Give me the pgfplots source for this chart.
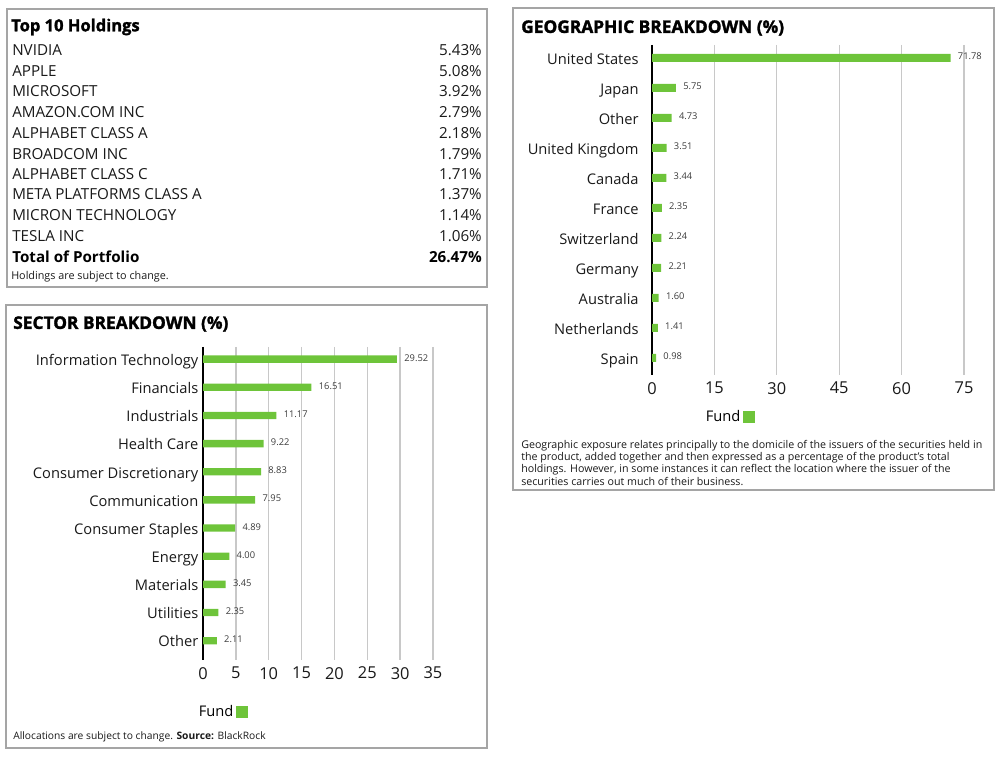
\documentclass[border=0pt]{standalone}
\usepackage{pgfplots}
\pgfplotsset{compat=1.18}
\usepackage{fontspec}
\setmainfont{Open Sans}
\newfontfamily\heavyfont{Open Sans}[UprightFeatures={FakeBold=1.6}, BoldFeatures={FakeBold=1.6}]
\definecolor{fund}{RGB}{110,196,58}
\definecolor{gridc}{RGB}{200,200,200}
\definecolor{boxc}{RGB}{165,165,165}
\definecolor{txt}{RGB}{25,25,25}
\newcommand{\rowfont}{\fontsize{11.4}{13}\selectfont}
\newcommand{\tickfont}{\fontsize{11}{13}\selectfont}
\newcommand{\titlefont}{\fontsize{13}{15}\selectfont\heavyfont\bfseries}
\newcommand{\notefont}{\fontsize{7.7}{9.2}\selectfont}
\pgfplotsset{fundbar/.style={
  xbar, scale only axis, anchor=south west, clip=false,
  axis lines*=left, x axis line style={draw=none},
  y axis line style={black,line width=2.2pt},
  major tick length=0pt, xmajorgrids, grid style={gridc,line width=1pt},
  ytick={0,...,10}, y dir=reverse,
  tick label style={font=\tickfont, text=txt},
  yticklabel style={text height=0.75em, text depth=0.25em, yshift=-2.2pt},
  xticklabel style={yshift=-1.8pt, font=\fontsize{12.3}{14}\selectfont},
  /pgf/number format/assume math mode=true,
  point meta=x,
  nodes near coords={\pgfmathprintnumber[fixed,fixed zerofill,precision=2]{\pgfplotspointmeta}},
  nodes near coords style={font=\fontsize{7}{8}\selectfont, text=txt!85, anchor=west, xshift=2pt, yshift=1pt},
  legend plot pos=right,
  legend image code/.code={\fill[fund] (0pt,-4.5pt) rectangle (9pt,4.5pt);},
  legend style={draw=none, fill=none, font=\tickfont, anchor=center},
}}
\begin{document}
\begin{tikzpicture}[x=0.75pt,y=0.75pt]
\path (0,0) rectangle (1000,760);
% boxes
\draw[boxc,line width=1.2pt] (7,751) rectangle (487,473);
\draw[boxc,line width=1.2pt] (6,455) rectangle (487,12);
\draw[boxc,line width=1.2pt] (513,752) rectangle (994,270);
% Top 10 holdings
\node[anchor=west,inner sep=0,text=black] at (11,733) {\fontsize{12.4}{14}\selectfont\heavyfont\bfseries Top 10 Holdings};
\foreach \n/\v/\y in {NVIDIA/5.43/710, APPLE/5.08/689, MICROSOFT/3.92/669, AMAZON.COM INC/2.79/648, ALPHABET CLASS A/2.18/627, BROADCOM INC/1.79/606, ALPHABET CLASS C/1.71/586, META PLATFORMS CLASS A/1.37/566, MICRON TECHNOLOGY/1.14/545, TESLA INC/1.06/524}{
  \node[anchor=west,inner sep=0,text=txt] at (12,\y) {\rowfont \n};
  \node[anchor=east,inner sep=0,text=txt] at (482,\y) {\rowfont \v\%};
}
\node[anchor=west,inner sep=0,text=black] at (12,503) {\rowfont\bfseries Total of Portfolio};
\node[anchor=east,inner sep=0,text=black] at (482,503) {\rowfont\bfseries 26.47\%};
\node[anchor=west,inner sep=0,text=txt] at (11,483) {\fontsize{8.1}{9.2}\selectfont Holdings are subject to change.};
% Sector
\node[anchor=west,inner sep=0,text=black] at (13,436) {\titlefont SECTOR BREAKDOWN (\%)};
\node[anchor=west,inner sep=0,text=txt] at (13,23) {\notefont Allocations are subject to change. \textbf{Source:} BlackRock};
\begin{axis}[fundbar, at={(152.25pt,75pt)}, width=172.5pt, height=234.75pt,
  xmin=0, xmax=35, xtick={0,5,...,35}, ymin=-0.43, ymax=10.685,
  yticklabels={Information Technology,Financials,Industrials,Health Care,Consumer Discretionary,Communication,Consumer Staples,Energy,Materials,Utilities,Other},
  bar width=5.5pt,
  legend style={at={(0.083,-0.166)}}]
\addplot[fill=fund,draw=none] coordinates {(29.52,0) (16.51,1) (11.17,2) (9.22,3) (8.83,4) (7.95,5) (4.89,6) (4.00,7) (3.45,8) (2.35,9) (2.11,10)};
\addlegendentry{Fund}
\end{axis}
% Geographic
\node[anchor=west,inner sep=0,text=black] at (521,732) {\titlefont GEOGRAPHIC BREAKDOWN (\%)};
\node[anchor=north west,inner sep=0,text=txt,align=left,font=\fontsize{8}{9.2}\selectfont] at (521,320) {Geographic exposure relates principally to the domicile of the issuers of the securities held in\\ the product, added together and then expressed as a percentage of the product's total\\ holdings. However, in some instances it can reflect the location where the issuer of the\\ securities carries out much of their business.};
\begin{axis}[fundbar, at={(489pt,288.75pt)}, width=234pt, height=247.5pt,
  xmin=0, xmax=75, xtick={0,15,...,75}, ymin=-0.433, ymax=10.567,
  yticklabels={United States,Japan,Other,United Kingdom,Canada,France,Switzerland,Germany,Australia,Netherlands,Spain},
  yticklabel style={xshift=-6.5pt},
  bar width=6pt,
  legend style={at={(0.247,-0.127)}}]
\addplot[fill=fund,draw=none] coordinates {(71.78,0) (5.75,1) (4.73,2) (3.51,3) (3.44,4) (2.35,5) (2.24,6) (2.21,7) (1.60,8) (1.41,9) (0.98,10)};
\addlegendentry{Fund}
\end{axis}
\end{tikzpicture}
\end{document}
